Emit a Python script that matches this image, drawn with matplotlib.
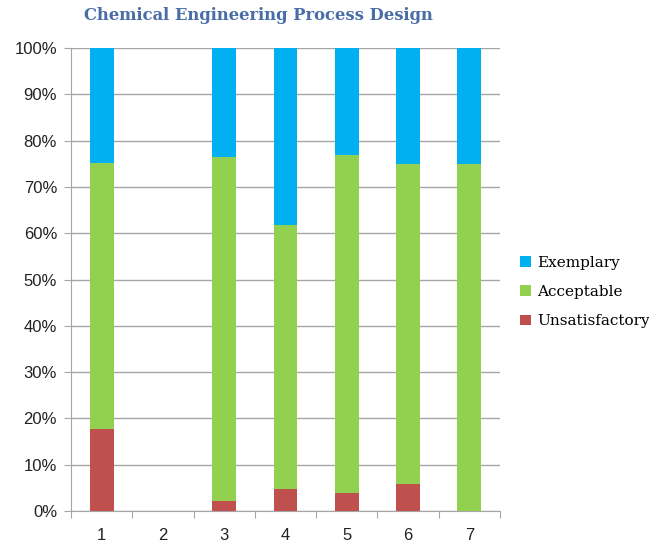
import numpy as np
import matplotlib
matplotlib.use("Agg")
import matplotlib.pyplot as plt

# data (percent of students per rating)
categories = ['1', '2', '3', '4', '5', '6', '7']
unsatisfactory = [17.7, 0, 2.2, 4.8, 3.8, 5.8, 0]
acceptable = [57.4, 0, 74.3, 57.0, 73.1, 69.2, 75.0]
exemplary = [24.9, 0, 23.5, 38.2, 23.1, 25.0, 25.0]
yticks = [0, 10, 20, 30, 40, 50, 60, 70, 80, 90, 100]

fig = plt.figure(figsize=(6.49, 5.45), dpi=100)
ax = fig.add_axes([0.1094, 0.0624, 0.661, 0.8495])

x = np.arange(1, len(categories) + 1)
u = np.array(unsatisfactory)
a = np.array(acceptable)
e = np.array(exemplary)
w = 0.39

ax.bar(x, u, w, color='#C0504D', label='Unsatisfactory', zorder=3)
ax.bar(x, a, w, bottom=u, color='#92D050', label='Acceptable', zorder=3)
ax.bar(x, e, w, bottom=u + a, color='#00B0F0', label='Exemplary', zorder=3)

ax.set_xlim(0.5, 7.5)
ax.set_ylim(0, 100)
ax.set_yticks(yticks)
ax.set_yticklabels([f'{t}%' for t in yticks], fontsize=12, family='Liberation Sans', color='#222222')
ax.yaxis.grid(True, color='#A6A6A6', linewidth=1, zorder=0)

# category ticks on boundaries, labels centered
ax.set_xticks(np.arange(0.5, 8.0, 1.0))
ax.set_xticklabels([])
ax.set_xticks(x, minor=True)
ax.set_xticklabels(categories, minor=True, fontsize=12, family='Liberation Sans', color='#222222')
ax.tick_params(axis='x', which='minor', length=0, pad=12)
ax.tick_params(axis='x', which='major', length=5, color='#A6A6A6')
ax.tick_params(axis='y', length=5, color='#A6A6A6', pad=5)

for s in ['top', 'right']:
    ax.spines[s].set_visible(False)
for s in ['left', 'bottom']:
    ax.spines[s].set_color('#A6A6A6')

fig.text(258 / 649, 1 - 16 / 545, 'Chemical Engineering Process Design', fontsize=11.8,
         fontweight='bold', family='DejaVu Serif', color='#4A6DA7', ha='center', va='center')

handles, labels = ax.get_legend_handles_labels()
ax.legend(handles[::-1], labels[::-1], loc='center left', bbox_to_anchor=(1.015, 0.473),
          frameon=False, prop={'family': 'DejaVu Serif', 'size': 11},
          handlelength=0.7, handleheight=0.7, handletextpad=0.4, labelspacing=1.0)

fig.savefig('out.png', dpi=100)
